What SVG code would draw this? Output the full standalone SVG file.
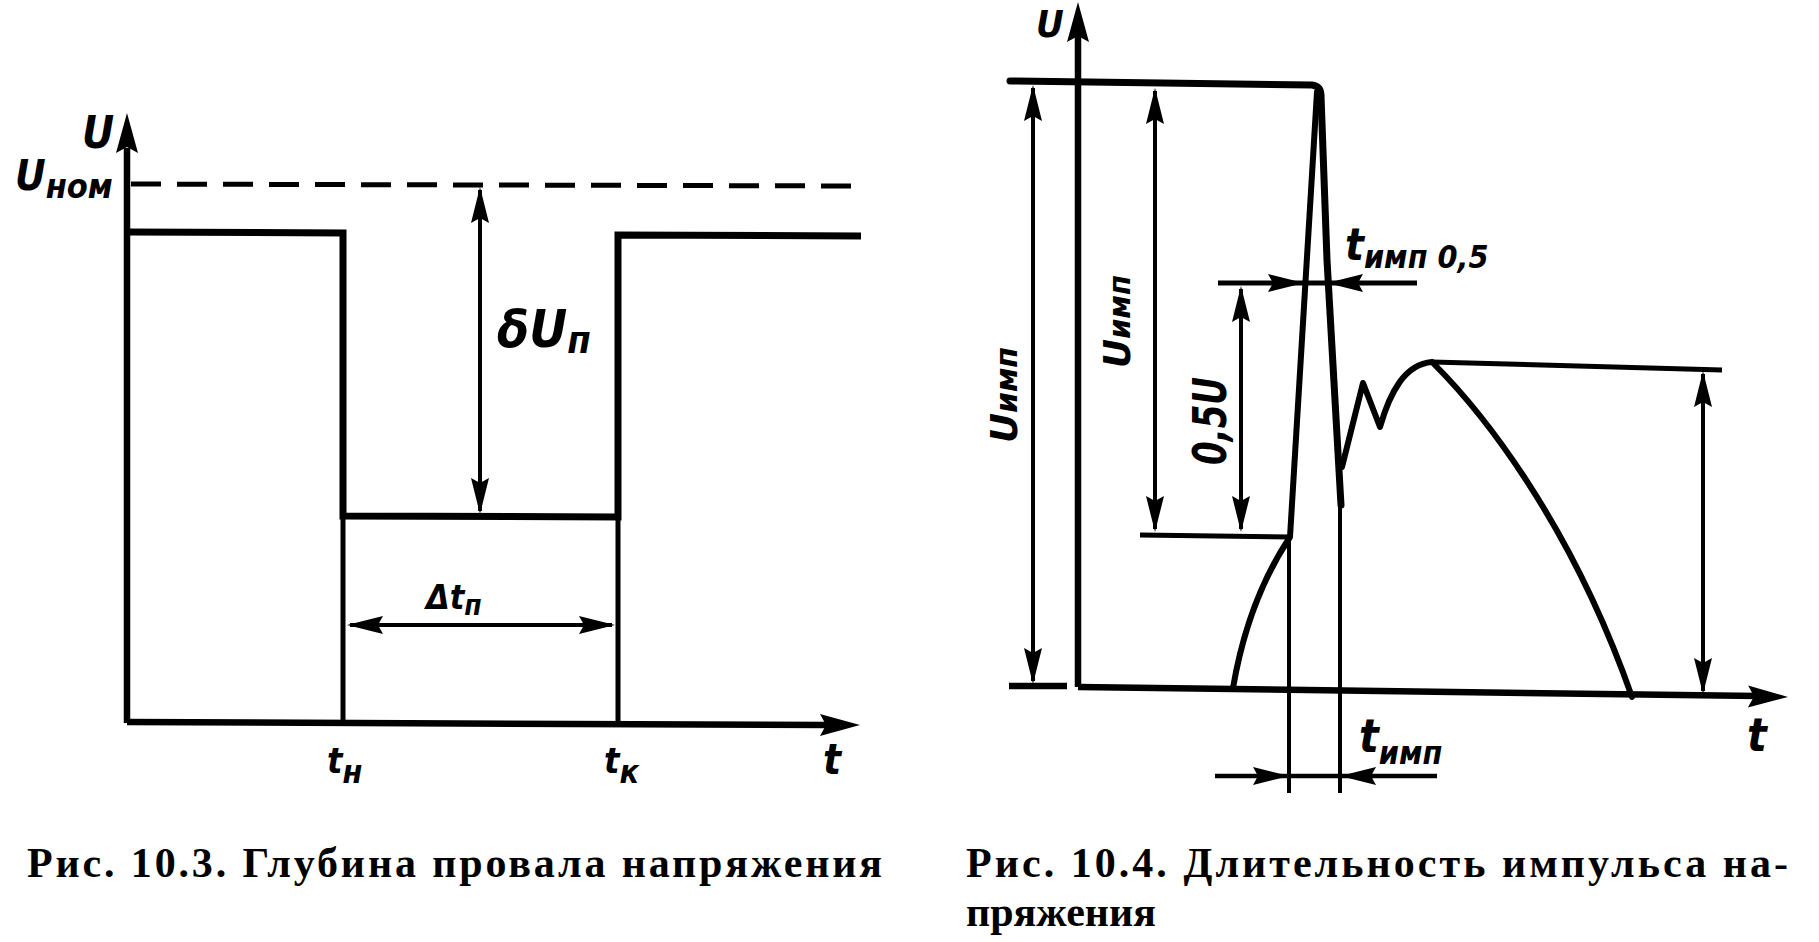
<svg xmlns="http://www.w3.org/2000/svg" xmlns:xlink="http://www.w3.org/1999/xlink" width="1819" height="942" viewBox="0 0 1819 942">
<style>
.sig{stroke:#000;stroke-width:7;fill:none;stroke-linejoin:round;stroke-linecap:round}
.ax{stroke:#000;stroke-width:6.5;fill:none}
.ext{stroke:#000;stroke-width:5;fill:none}
.dim{stroke:#000;stroke-width:4;fill:none}
.dash{stroke:#000;stroke-width:5;fill:none;stroke-dasharray:30 16}
.lbl{font-family:"DejaVu Sans Condensed","DejaVu Sans",sans-serif;font-style:oblique;font-weight:bold;fill:#000}
.cap{font-family:"Liberation Serif","Times New Roman",serif;font-weight:bold;font-size:42px;fill:#000}
</style>
<defs>
<path id="ah" d="M0,0 L9,36 L0,31 L-9,36 Z" fill="#000"/>
<path id="ahx" d="M0,0 L11,40 L0,34 L-11,40 Z" fill="#000"/>
</defs>
<rect width="1819" height="942" fill="#fff"/>

<g id="fig103">
  <g id="axes1">
    <path class="ax" d="M127,148 V723"/>
    <use xlink:href="#ahx" transform="translate(127,113)"/>
    <path class="ax" d="M127,722 L826,725"/>
    <use xlink:href="#ahx" transform="translate(860,725) rotate(90)"/>
  </g>
  <path id="nominal" class="dash" d="M131,184 L863,186"/>
  <path id="signal1" class="sig" style="stroke-linejoin:miter;stroke-linecap:butt" d="M127,232 L343,233 L343,516 L618,517 L618,235 L861,236"/>
  <path id="ext1" class="ext" d="M343,516 V723 M618,517 V723"/>
  <g id="labels1">
    <text class="lbl" x="82" y="148" font-size="44">U</text>
    <text class="lbl" x="15" y="190" font-size="42">U<tspan font-size="34" dy="8">ном</tspan></text>
    <text class="lbl" x="497" y="347" font-size="52">δU<tspan font-size="38" dy="6">п</tspan></text>
    <text class="lbl" x="426" y="609" font-size="34">Δt<tspan font-size="28" dy="6">п</tspan></text>
    <text class="lbl" x="327" y="773" font-size="36">t<tspan font-size="32" dy="10">н</tspan></text>
    <text class="lbl" x="604" y="773" font-size="36">t<tspan font-size="32" dy="10">к</tspan></text>
    <text class="lbl" x="823" y="774" font-size="42">t</text>
  </g>
  <text id="caption1" class="cap" x="27" y="877" textLength="855" lengthAdjust="spacing">Рис. 10.3. Глубина провала напряжения</text>
</g>

<g id="fig104">
  <g id="axes2">
    <path class="ax" d="M1078,30 V687"/>
    <use xlink:href="#ahx" transform="translate(1078,2)"/>
    <path class="ax" d="M1078,687 L1758,696"/>
    <use xlink:href="#ahx" transform="translate(1788,697) rotate(90.8)"/>
    <path class="ax" d="M1009,686 L1067,686"/>
  </g>
  <g id="signal2">
    <path class="sig" d="M1010,81 L1312,85 Q1321,86 1321,96 L1327,260 L1341,505"/>
    <path class="sig" style="stroke-width:6" d="M1317,92 L1290,537 Q1248,600 1233,688"/>
    <path class="sig" style="stroke-width:6" d="M1342,467 L1363,383 L1380,427 C1390,392 1405,364 1432,362"/>
    <path class="sig" style="stroke-width:6" d="M1434,364 C1480,410 1570,520 1632,697"/>
  </g>
  <g id="levels2">
    <path class="ext" d="M1432,362 L1722,370"/>
    <path class="ext" d="M1218,283 L1417,283"/>
    <path class="ext" d="M1140,535 L1292,537"/>
    <path class="dim" d="M1289,537 V793 M1340,505 V793"/>
  </g>
  <g id="labels2">
    <text class="lbl" x="1036" y="37" font-size="38">U</text>
    <text class="lbl" transform="translate(1017,443) rotate(-90)" font-size="37" textLength="96" lengthAdjust="spacingAndGlyphs">U<tspan font-size="30">имп</tspan></text>
    <text class="lbl" transform="translate(1130,368) rotate(-90)" font-size="37" textLength="93" lengthAdjust="spacingAndGlyphs">U<tspan font-size="30">имп</tspan></text>
    <text class="lbl" transform="translate(1226,465) rotate(-90)" font-size="46" textLength="88" lengthAdjust="spacingAndGlyphs">0,5U</text>
    <text class="lbl" x="1345" y="260" font-size="44">t<tspan font-size="32" dy="8">имп 0,5</tspan></text>
    <text class="lbl" x="1359" y="752" font-size="46">t<tspan font-size="32" dy="12">имп</tspan></text>
    <text class="lbl" x="1747" y="751" font-size="46">t</text>
  </g>
  <text id="caption2a" class="cap" x="966" y="877" textLength="822" lengthAdjust="spacing">Рис. 10.4. Длительность импульса на-</text>
  <text id="caption2b" class="cap" x="966" y="926">пряжения</text>
</g>

<g id="connectors">
  <path class="dim" d="M480,190 V511"/>
  <use xlink:href="#ah" transform="translate(480,187)"/>
  <use xlink:href="#ah" transform="translate(480,514) rotate(180)"/>
  <path class="dim" d="M350,625 H612"/>
  <use xlink:href="#ah" transform="translate(347,625) rotate(-90)"/>
  <use xlink:href="#ah" transform="translate(615,625) rotate(90)"/>

  <path class="dim" d="M1033,88 V681"/>
  <use xlink:href="#ah" transform="translate(1033,85)"/>
  <use xlink:href="#ah" transform="translate(1033,684) rotate(180)"/>
  <path class="dim" d="M1155,91 V529"/>
  <use xlink:href="#ah" transform="translate(1155,88)"/>
  <use xlink:href="#ah" transform="translate(1155,532) rotate(180)"/>
  <path class="dim" d="M1241,289 V529"/>
  <use xlink:href="#ah" transform="translate(1241,286)"/>
  <use xlink:href="#ah" transform="translate(1241,532) rotate(180)"/>
  <path class="dim" d="M1703,374 V691"/>
  <use xlink:href="#ah" transform="translate(1703,371)"/>
  <use xlink:href="#ah" transform="translate(1703,694) rotate(180)"/>
  <use xlink:href="#ah" transform="translate(1304,283) rotate(90)"/>
  <use xlink:href="#ah" transform="translate(1327,283) rotate(-90)"/>
  <path class="dim" style="stroke-width:4.5" d="M1215,776 L1437,776"/>
  <use xlink:href="#ah" transform="translate(1289,776) rotate(90)"/>
  <use xlink:href="#ah" transform="translate(1340,776) rotate(-90)"/>
</g>
</svg>
